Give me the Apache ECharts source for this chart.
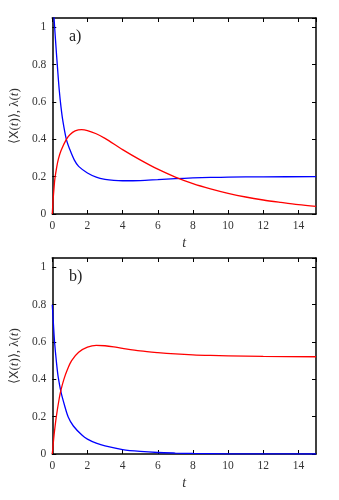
<!DOCTYPE html>
<html><head><meta charset="utf-8">
<script src="https://cdn.jsdelivr.net/npm/echarts@6/dist/echarts.min.js"></script>
<style>html,body{margin:0;padding:0;background:#fff}#c{width:339px;height:500px}</style>
</head><body><div id="c"></div>
<script>
// panel a)
var tA_blue = [0, 0.1, 0.2, 0.3, 0.4, 0.5, 0.6, 0.8, 1.0, 1.25, 1.5, 2, 2.5, 3, 3.5, 4, 5, 6, 7, 8, 9, 10, 12, 15];
var vA_blue = [1.2, 1.05, 0.91, 0.78, 0.66, 0.57, 0.5, 0.40, 0.345, 0.29, 0.255, 0.22, 0.198, 0.186, 0.18, 0.178, 0.179, 0.184, 0.189, 0.193, 0.196, 0.198, 0.199, 0.2];
var tA_red = [0, 0.05, 0.1, 0.15, 0.25, 0.35, 0.5, 0.8, 1.0, 1.3, 1.67, 2, 2.5, 3, 4, 5, 6, 7, 8, 9, 10, 11, 12, 13, 14, 15];
var vA_red = [0, 0.08, 0.14, 0.19, 0.25, 0.295, 0.34, 0.40, 0.425, 0.445, 0.452, 0.447, 0.43, 0.405, 0.345, 0.29, 0.24, 0.198, 0.163, 0.135, 0.111, 0.091, 0.075, 0.062, 0.05, 0.041];
// panel b)
var tB_blue = [0, 0.07, 0.13, 0.25, 0.34, 0.5, 0.7, 0.9, 1.2, 1.7, 2, 2.5, 3, 4, 5, 6, 7, 8, 10, 12, 15];
var vB_blue = [0.8, 0.69, 0.6, 0.48, 0.41, 0.33, 0.26, 0.2, 0.15, 0.1, 0.08, 0.058, 0.043, 0.024, 0.014, 0.008, 0.005, 0.003, 0.001, 0.0005, 0];
var tB_red = [0, 0.05, 0.1, 0.23, 0.4, 0.5, 0.66, 0.85, 1.1, 1.5, 2, 2.5, 3, 3.5, 4, 5, 6, 7, 8, 9, 10, 12, 15];
var vB_red = [0, 0.05, 0.1, 0.2, 0.3, 0.345, 0.4, 0.45, 0.5, 0.545, 0.572, 0.582, 0.58, 0.574, 0.566, 0.552, 0.543, 0.536, 0.531, 0.528, 0.526, 0.523, 0.521];
var xTicks = [0, 2, 4, 6, 8, 10, 12, 14];
var yTicks = [0, 0.2, 0.4, 0.6, 0.8, 1];
var panelLabels = ['a)', 'b)'];

function pairs(t, v) { return t.map(function (x, i) { return [x, v[i]]; }); }
var FONT = '"Liberation Serif", serif';
var grids = [
  {left: 52, right: 23, top: 18, height: 196},
  {left: 52, right: 23, top: 258, height: 196}
];
var xAxes = [], yAxes = [], series = [];
var lineStyleAxis = {show: true, onZero: false, lineStyle: {color: '#000', width: 1.5}};
grids.forEach(function (g, gi) {
  var base = {type: 'value', gridIndex: gi, min: 0, max: 15, interval: 2,
    axisLine: lineStyleAxis, splitLine: {show: false},
    axisTick: {inside: true, length: 4, lineStyle: {color: '#000'}}};
  xAxes.push(Object.assign({}, base, {position: 'bottom',
    axisLabel: {fontFamily: FONT, fontSize: 11.5, color: '#333', margin: 6, showMaxLabel: false,
      formatter: function (v) { return xTicks.indexOf(v) >= 0 ? String(v) : ''; }},
    name: 't', nameLocation: 'middle', nameGap: 22,
    nameTextStyle: {fontFamily: FONT, fontStyle: 'italic', fontSize: 14, color: '#333'}}));
  xAxes.push(Object.assign({}, base, {position: 'top', axisLabel: {show: false}}));
  var ybase = {type: 'value', gridIndex: gi, min: 0, max: 1.05, interval: 0.2,
    axisLine: lineStyleAxis, splitLine: {show: false},
    axisTick: {inside: true, length: 4, lineStyle: {color: '#000'}}};
  yAxes.push(Object.assign({}, ybase, {position: 'left',
    axisLabel: {fontFamily: FONT, fontSize: 11.5, color: '#333', margin: 6, showMaxLabel: false,
      formatter: function (v) { return yTicks.indexOf(+v.toFixed(1)) >= 0 ? String(+v.toFixed(1)) : ''; }},
    name: '{a|⟨}{x|X}{a|(}{i|t}{a|)⟩, λ(}{i|t}{a|)}', nameLocation: 'middle', nameGap: 30, nameRotate: 90,
    nameTextStyle: {fontFamily: FONT, fontSize: 13, color: '#333',
      rich: {a: {fontFamily: FONT, fontSize: 13, color: '#333'},
        x: {fontFamily: 'DejaVu Sans', fontSize: 12, color: '#333'},
        i: {fontFamily: FONT, fontStyle: 'italic', fontSize: 13, color: '#333'}}}}));
  yAxes.push(Object.assign({}, ybase, {position: 'right', axisLabel: {show: false}}));
});
var data = [[tA_blue, vA_blue, tA_red, vA_red], [tB_blue, vB_blue, tB_red, vB_red]];
data.forEach(function (d, gi) {
  series.push({type: 'line', xAxisIndex: gi * 2, yAxisIndex: gi * 2, data: pairs(d[2], d[3]),
    showSymbol: false, smooth: 0.3, clip: true, lineStyle: {color: '#ff0000', width: 1.3}, z: 3});
  series.push({type: 'line', xAxisIndex: gi * 2, yAxisIndex: gi * 2, data: pairs(d[0], d[1]),
    showSymbol: false, smooth: 0.3, clip: true, lineStyle: {color: '#0000ff', width: 1.3}, z: 2});
});
var chart = echarts.init(document.getElementById('c'), null, {renderer: 'canvas'});
chart.setOption({
  animation: false,
  grid: grids,
  xAxis: xAxes,
  yAxis: yAxes,
  series: series,
  graphic: [
    {type: 'text', left: 69, top: 29, style: {text: panelLabels[0], fontFamily: FONT, fontSize: 16, fill: '#222'}},
    {type: 'text', left: 69, top: 269, style: {text: panelLabels[1], fontFamily: FONT, fontSize: 16, fill: '#222'}}
  ]
});
</script></body></html>
